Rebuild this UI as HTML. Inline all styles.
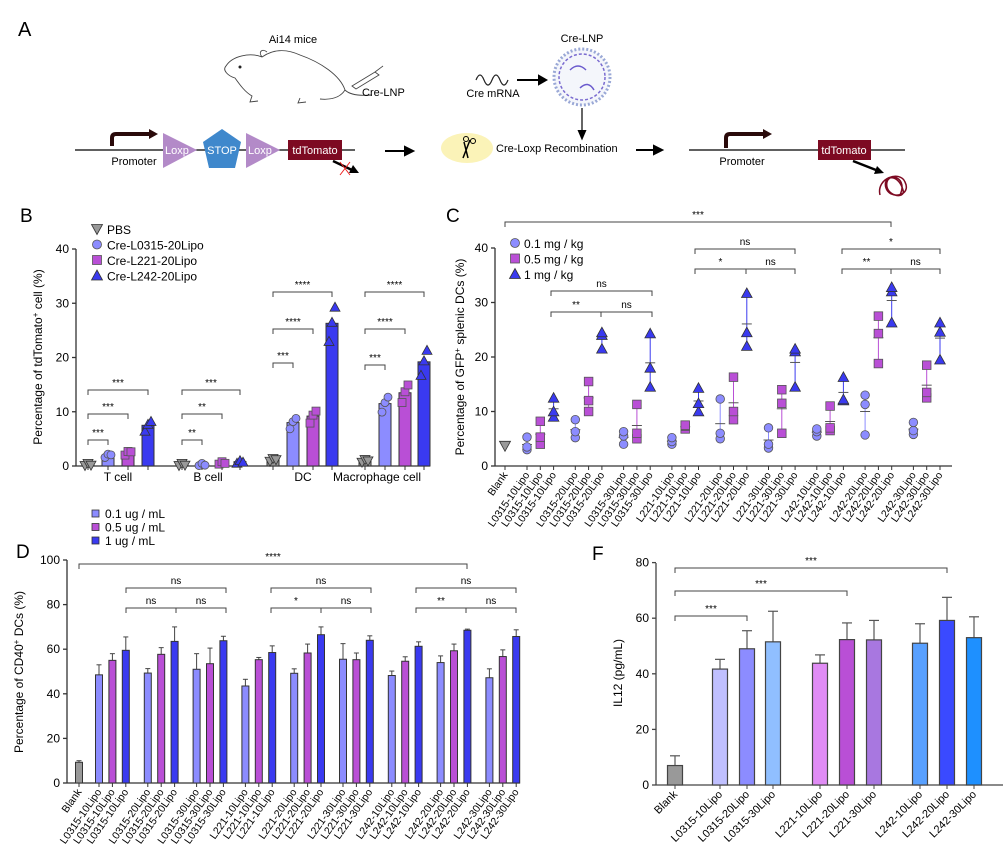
<!DOCTYPE html>
<html><head><meta charset="utf-8"><style>
html,body{margin:0;padding:0;background:#fff}
svg{display:block;font-family:"Liberation Sans",sans-serif}
</style></head><body>
<svg id="s" width="1008" height="857" viewBox="0 0 1008 857" xmlns="http://www.w3.org/2000/svg">
<!-- Panel A -->
<text x="18" y="36" font-size="20">A</text>
<text x="293" y="43" font-size="11" text-anchor="middle">Ai14 mice</text>
<g fill="none" stroke="#444" stroke-width="0.9">
<path d="M226,66 C232,56 250,52 262,57 C272,50 285,48 300,55 C320,62 340,75 345,90 C350,95 360,96 372,95 M345,90 C340,98 330,100 320,99 M262,57 C258,52 262,48 267,52 M226,66 C222,70 228,76 235,78 C240,85 245,92 252,96 L250,102 L258,101 M300,98 L298,103 L306,102"/>
<path d="M352,86 L375,72 L379,75 L356,89Z"/>
<line x1="375" y1="72" x2="383" y2="66"/>
</g>
<circle cx="240" cy="67" r="1.5" fill="#222"/>
<text x="362" y="96" font-size="11">Cre-LNP</text>
<path d="M476,80 q4,-10 8,0 q4,10 8,0 q4,-10 8,0 q4,10 8,0" fill="none" stroke="#222" stroke-width="1.2"/>
<text x="493" y="97" font-size="11" text-anchor="middle">Cre mRNA</text>
<text x="582" y="42" font-size="11" text-anchor="middle">Cre-LNP</text>
<circle cx="582" cy="77" r="28" fill="#f4f6fb" stroke="#9aa8d6" stroke-width="3" stroke-dasharray="2 2"/>
<circle cx="582" cy="77" r="23" fill="none" stroke="#7a6bd0" stroke-width="1.5" stroke-dasharray="3 2"/>
<path d="M570,70 q8,-8 16,0 M580,88 q8,-8 14,2" fill="none" stroke="#6a5acd" stroke-width="1.5"/>
<g stroke="#000" stroke-width="2" fill="#000">
<line x1="517" y1="80" x2="540" y2="80"/><path d="M546,80 L539,76 L539,84Z"/>
<line x1="582" y1="108" x2="582" y2="132" stroke-width="1.2"/><path d="M582,138 L579,131 L585,131Z"/>
<line x1="385" y1="151" x2="406" y2="151"/><path d="M413,151 L405,147 L405,155Z"/>
<line x1="636" y1="150" x2="655" y2="150"/><path d="M662,150 L654,146 L654,154Z"/>
</g>
<line x1="75" y1="150" x2="355" y2="150" stroke="#000" stroke-width="1.3"/>
<path d="M112,146 L112,138 Q112,134 116,134 L150,134" fill="none" stroke="#2a0a0a" stroke-width="4"/>
<path d="M158,134 L149,129 L149,139Z" fill="#2a0a0a"/>
<text x="134" y="165" font-size="11" text-anchor="middle">Promoter</text>
<path d="M163,133 L197,150 L163,168Z" fill="#b38ac8"/>
<text x="165" y="154" font-size="11" fill="#fff">Loxp</text>
<path d="M222,129 L241,142 L235,168 L209,168 L203,142Z" fill="#3f88cc"/>
<text x="222" y="154" font-size="11" fill="#fff" text-anchor="middle">STOP</text>
<path d="M246,133 L280,150 L246,168Z" fill="#b38ac8"/>
<text x="248" y="154" font-size="11" fill="#fff">Loxp</text>
<rect x="288" y="140" width="54" height="20" fill="#7d0a22"/>
<text x="315" y="154" font-size="11" fill="#fff" text-anchor="middle">tdTomato</text>
<line x1="333" y1="161" x2="352" y2="170" stroke="#000" stroke-width="2.5"/><path d="M359,173 L349,173 L353,165Z"/>
<path d="M340,162 L350,175 M350,162 L340,175" stroke="#e22" stroke-width="1"/>
<ellipse cx="467" cy="148" rx="26" ry="15" fill="#fbf3b8"/>
<path d="M463,158 L470,140 M468,158 L464,142" stroke="#000" stroke-width="1.5"/><circle cx="466" cy="139" r="2.5" fill="none" stroke="#000"/><circle cx="473" cy="141" r="2.5" fill="none" stroke="#000"/>
<text x="496" y="152" font-size="11">Cre-Loxp Recombination</text>
<line x1="689" y1="150" x2="905" y2="150" stroke="#000" stroke-width="1.3"/>
<path d="M726,148 L726,138 Q726,134 730,134 L764,134" fill="none" stroke="#2a0a0a" stroke-width="4"/>
<path d="M772,134 L763,129 L763,139Z" fill="#2a0a0a"/>
<text x="742" y="165" font-size="11" text-anchor="middle">Promoter</text>
<rect x="818" y="140" width="53" height="20" fill="#7d0a22"/>
<text x="844" y="154" font-size="11" fill="#fff" text-anchor="middle">tdTomato</text>
<line x1="853" y1="161" x2="876" y2="170" stroke="#000" stroke-width="2.5"/><path d="M884,173 L874,174 L877,166Z"/>
<path d="M880,195 C876,178 900,170 905,182 C912,196 890,200 886,188 C882,176 898,172 903,190 C906,200 884,196 887,182 C890,172 908,178 900,195" fill="none" stroke="#7d0a22" stroke-width="1.5"/>
<g id="charts"></g>
</svg>
<script>
const g=document.getElementById('charts');let h='';
const F='font-family="Liberation Sans,sans-serif"';
function T(x,y,s,sz,anc,extra){h+=`<text x="${x}" y="${y}" font-size="${sz||11}" text-anchor="${anc||'start'}" ${extra||''}>${s}</text>`;}
function L(x1,y1,x2,y2,c,w){h+=`<line x1="${x1}" y1="${y1}" x2="${x2}" y2="${y2}" stroke="${c||'#333'}" stroke-width="${w||1}"/>`;}
function br(x1,x2,y,lab,mid,l2){h+=`<path d="M${x1},${y+5}V${y}H${x2}V${y+5}" fill="none" stroke="#444" stroke-width="1"/>`;if(mid){L(mid,y,mid,y+5,'#444');T((x1+mid)/2,y-4,lab,10,'middle');T((mid+x2)/2,y-4,l2,10,'middle');}else T((x1+x2)/2,y-4,lab,10,'middle');}
function mk(t,x,y,c,s){s=s||4.5;if(t=='c')h+=`<circle cx="${x}" cy="${y}" r="${s}" fill="${c}" stroke="#555" stroke-width=".8"/>`;else if(t=='s')h+=`<rect x="${x-s}" y="${y-s}" width="${2*s}" height="${2*s}" fill="${c}" stroke="#555" stroke-width=".8"/>`;else if(t=='t')h+=`<path d="M${x},${y-s-1}L${x+s+1},${y+s}L${x-s-1},${y+s}Z" fill="${c}" stroke="#333" stroke-width=".8"/>`;else h+=`<path d="M${x},${y+s+1}L${x+s+1},${y-s}L${x-s-1},${y-s}Z" fill="${c}" stroke="#333" stroke-width=".8"/>`;}
const C1='#8c8cff',C2='#b94fd6',C3='#3a3af0',GR='#999';
// ---- Panel B
T(20,222,'B',19);
{const x0=76,y0=466,k=5.425,xe=430;L(x0,249,x0,y0,'#333',1.3);L(x0,y0,xe,y0,'#333',1.3);
for(let v=0;v<=40;v+=10){const y=y0-v*k;L(x0-4,y,x0,y,'#333',1.3);T(x0-7,y+4,v,12,'end');}
T(42,357,'Percentage of tdTomato<tspan font-size="8" dy="-4">+</tspan><tspan dy="4"> cell (%)</tspan>',12,'middle','transform="rotate(-90 42 357)"');
const G=[[88,108,128,148,[.3,2,2.5,7.5]],[182,202,222,240,[.3,.3,.6,.8]],[273,293,313,332,[1.2,8,9.2,26.3]],[365,385,405,424,[1,11.5,13.5,19.2]]];
const cols=[GR,C1,C2,C3],sh=['v','c','s','t'];
G.forEach(gg=>{for(let i=0;i<4;i++){const x=gg[i],v=gg[4][i],y=y0-v*k;h+=`<rect x="${x-6}" y="${y}" width="12" height="${v*k}" fill="${cols[i]}" stroke="#333" stroke-width="1"/>`;L(x,y0,x,y0+4,'#333');
[-.06,0,.06].forEach((d,j)=>mk(sh[i],x+(j-1)*3,y0-(v*(1+d*2))*k+ (j==1?-1:1),cols[i],4));}});
[['T cell',118],['B cell',208],['DC',303],['Macrophage cell',377]].forEach(a=>T(a[1],481,a[0],12,'middle'));
br(88,108,440,'***');br(88,128,414,'***');br(88,148,390,'***');
br(182,202,440,'**');br(182,222,414,'**');br(182,240,390,'***');
br(273,293,363,'***');br(273,313,329,'****');br(273,332,292,'****');
br(365,385,365,'***');br(365,405,329,'****');br(365,424,292,'****');
[['PBS','v',GR],['Cre-L0315-20Lipo','c',C1],['Cre-L221-20Lipo','s',C2],['Cre-L242-20Lipo','t',C3]].forEach((a,i)=>{mk(a[1],97,229+i*15.5,a[2],4.5);T(107,234+i*15.5,a[0],12);});
}
// ---- Panel C
T(446,222,'C',19);
{const x0=495,y0=466,k=5.45,xe=952;L(x0,248,x0,y0,'#333',1.3);L(x0,y0,xe,y0,'#333',1.3);
for(let v=0;v<=40;v+=10){const y=y0-v*k;L(x0-4,y,x0,y,'#333',1.3);T(x0-7,y+4,v,12,'end');}
T(464,357,'Percentage of GFP<tspan font-size="8" dy="-4">+</tspan><tspan dy="4"> splenic DCs (%)</tspan>',12,'middle','transform="rotate(-90 464 357)"');
const D=[[[3,3.5,5.3],[4,5.3,8.2],[9,10,12.5]],[[5.2,6.3,8.5],[10,12,15.5],[21.5,24,24.5]],[[4,5.5,6.3],[5,6,11.3],[14.5,18,24.3]],[[4,4.5,5.2],[6.8,7.3,7.5],[10,11.5,14.3]],[[5,6,12.3],[8.5,10,16.3],[22,24.5,31.7]],[[3.3,4,7],[6,11.5,14],[14.5,21,21.5]],[[5.5,6.3,6.8],[6.5,7,11],[12,12.2,16.3]],[[5.7,11.3,13],[18.8,24.3,27.5],[26.3,32,32.8]],[[5.8,6.5,8],[12.5,13.5,18.5],[19.5,24.6,26.3]]];
const names=['L0315-10Lipo','L0315-20Lipo','L0315-30Lipo','L221-10Lipo','L221-20Lipo','L221-30Lipo','L242-10Lipo','L242-20Lipo','L242-30Lipo'];
const xs=[['Blank',505]];mk('v',505,y0-3.7*k,GR,4.5);
names.forEach((n,gi)=>{const b=527+gi*48.3;D[gi].forEach((vals,di)=>{const x=b+di*13.3;xs.push([n,x]);const c=[C1,C2,C3][di],m=(vals[0]+vals[1]+vals[2])/3;
L(x,y0-vals[0]*k,x,y0-vals[2]*k,c,1);L(x-5,y0-m*k,x+5,y0-m*k,'#555',1);vals.forEach(v=>mk(['c','s','t'][di],x,y0-v*k,c,4.3));});});
xs.forEach(a=>{L(a[1],y0,a[1],y0+4,'#333');T(a[1]+3,y0+9,a[0],10.5,'end',`transform="rotate(-55 ${a[1]+3} ${y0+9})"`);});
br(505,891,222,'***');
br(551,652,291,'ns');br(551,652,312,'**',601,'ns');
br(695,795,249,'ns');br(695,795,269,'*',746,'ns');
br(842,940,249,'*');br(842,940,269,'**',891,'ns');
[['0.1 mg / kg','c',C1],['0.5 mg / kg','s',C2],['1 mg / kg','t',C3]].forEach((a,i)=>{mk(a[1],515,243+i*15.5,a[2],4.5);T(524,248+i*15.5,a[0],12);});
}
// ---- Panel D
T(16,558,'D',19);
[['0.1 ug / mL',C1],['0.5 ug / mL',C2],['1 ug / mL',C3]].forEach((a,i)=>{h+=`<rect x="92" y="${510+i*13.5}" width="7" height="7" fill="${a[1]}" stroke="#333" stroke-width=".8"/>`;T(105,518+i*13.5,a[0],12);});
{const x0=67,y0=783,k=2.23,xe=520;L(x0,560,x0,y0,'#333',1.3);L(x0,y0,xe,y0,'#333',1.3);
for(let v=0;v<=100;v+=20){const y=y0-v*k;L(x0-4,y,x0,y,'#333',1.3);T(x0-7,y+4,v,12,'end');}
T(23,672,'Percentage of CD40<tspan font-size="8" dy="-4">+</tspan><tspan dy="4"> DCs (%)</tspan>',12,'middle','transform="rotate(-90 23 672)"');
const V=[[48.5,55,59.5],[49.3,57.7,63.5],[51,53.5,63.8],[43.5,55.3,58.5],[49.2,58.3,66.5],[55.5,55.3,64],[48.2,54.6,61.3],[54,59.3,68.5],[47.2,56.7,65.7]];
const E=[[4.5,3,6],[2,3,6.5],[7,7,2],[3,1,3],[2,4,3.5],[7,3,2],[2,2,2],[3,3,.5],[4,3,3]];
const names=['L0315-10Lipo','L0315-20Lipo','L0315-30Lipo','L221-10Lipo','L221-20Lipo','L221-30Lipo','L242-10Lipo','L242-20Lipo','L242-30Lipo'];
const xs=[['Blank',79]];
function bar(x,v,e,c,w){const y=y0-v*k;L(x,y,x,y-e*k,'#444');L(x-2.5,y-e*k,x+2.5,y-e*k,'#444');h+=`<rect x="${x-w/2}" y="${y}" width="${w}" height="${v*k}" fill="${c}" stroke="#333" stroke-width="1"/>`;}
bar(79,9.3,.7,GR,7);
names.forEach((n,gi)=>{const b=99+gi*48.8;[0,1,2].forEach(di=>{const x=b+di*13.4;xs.push([n,x]);bar(x,V[gi][di],E[gi][di],[C1,C2,C3][di],7);});});
xs.forEach(a=>{L(a[1],y0,a[1],y0+4,'#333');T(a[1]+3,y0+9,a[0],10.5,'end',`transform="rotate(-55 ${a[1]+3} ${y0+9})"`);});
br(79,467,564,'****');
br(126,226,588,'ns');br(126,226,608,'ns',176,'ns');
br(271,371,588,'ns');br(271,371,608,'*',321,'ns');
br(416,516,588,'ns');br(416,516,608,'**',466,'ns');
}
// ---- Panel F
T(592,560,'F',19);
{const x0=656,y0=785,k=2.78,xe=1003;L(x0,563,x0,y0,'#444',1.3);L(x0,y0,xe,y0,'#444',1.3);
for(let v=0;v<=80;v+=20){const y=y0-v*k;L(x0-4,y,x0,y,'#444',1.3);T(x0-7,y+4,v,12,'end');}
T(622,673,'IL12 (pg/mL)',12,'middle','transform="rotate(-90 622 673)"');
const B=[['Blank',675,7,3.5,'#999'],['L0315-10Lipo',720,41.7,3.5,'#c0c0ff'],['L0315-20Lipo',747,49,6.5,'#8c8cff'],['L0315-30Lipo',773,51.5,11,'#90bfff'],['L221-10Lipo',820,43.8,3,'#e08cf5'],['L221-20Lipo',847,52.3,6,'#b94fd6'],['L221-30Lipo',874,52.2,7,'#a877e0'],['L242-10Lipo',920,51,7,'#58a0ff'],['L242-20Lipo',947,59.2,8.3,'#3a4aff'],['L242-30Lipo',974,53,7.5,'#1e90ff']];
B.forEach(a=>{const x=a[1],y=y0-a[2]*k,e=a[3]*k;L(x,y,x,y-e,'#555',1.2);L(x-5,y-e,x+5,y-e,'#555',1.2);h+=`<rect x="${x-7.5}" y="${y}" width="15" height="${a[2]*k}" fill="${a[4]}" stroke="#444" stroke-width="1.2"/>`;L(x,y0,x,y0+4,'#444');T(x+3,y0+10,a[0],11,'end',`transform="rotate(-45 ${x+3} ${y0+10})"`);});
br(675,747,616,'***');br(675,847,591,'***');br(675,947,568,'***');
}
g.innerHTML=h;
</script>
</body></html>
